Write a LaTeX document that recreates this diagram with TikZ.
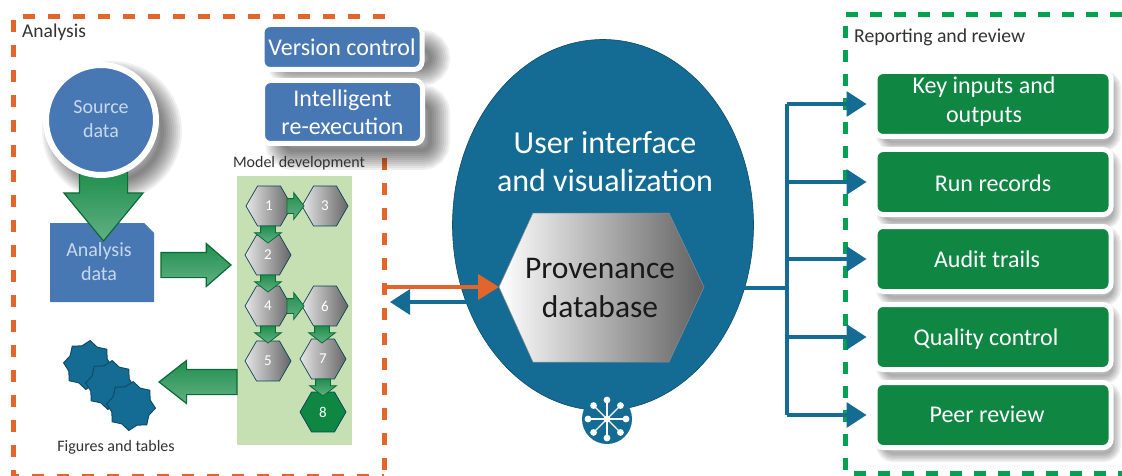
\documentclass[tikz,border=0pt]{standalone}
\usepackage{fontspec}
\setmainfont{Carlito}
\usetikzlibrary{shapes.geometric,shapes.arrows,arrows.meta}
\definecolor{framered}{HTML}{E2662B}
\definecolor{framegreen}{HTML}{00A14F}
\definecolor{boxblue}{HTML}{4878B4}
\definecolor{uiblue}{HTML}{146C95}
\definecolor{boxgreen}{HTML}{0F8743}
\definecolor{arrowedge}{HTML}{0B6B37}
\definecolor{arrowgreen}{HTML}{1F8F4E}
\definecolor{panelgreen}{HTML}{C6E0B4}
\definecolor{softtext}{HTML}{C7D8EC}
\tikzset{
    framered/.style={draw=framered,line width=5pt,dash pattern=on 12pt off 13pt},
    framegreen/.style={draw=framegreen,line width=5pt,dash pattern=on 12pt off 12pt},
    bluebox/.style={draw=white,line width=5pt,fill=boxblue,rounded corners=8pt,outer sep=0pt,text=white,align=center,font=\fontsize{24}{28}\selectfont},
    greenbox/.style={draw=white,line width=5pt,fill=boxgreen,rounded corners=8pt,outer sep=0pt,minimum width=236pt,minimum height=65pt},
    greentext/.style={text=white,align=center,inner sep=0pt,font=\fontsize{24}{29}\selectfont},
    softlabel/.style={text=softtext,align=center,inner sep=0pt,font=\fontsize{20}{24}\selectfont},
    caption/.style={text=black!80,inner sep=0pt},
    blockarrow/.style={single arrow,anchor=tail,draw=arrowedge,line width=1.2pt,inner xsep=0pt,outer sep=0pt,
        top color=arrowgreen,middle color=arrowgreen!25,bottom color=arrowgreen!70},
    bigarrow/.style={blockarrow,inner ysep=23.5pt,single arrow head extend=15.5pt,single arrow tip angle=79,minimum height=69pt},
    midarrow/.style={blockarrow,inner ysep=12pt,single arrow head extend=9pt,single arrow tip angle=82,minimum height=70pt},
    tinyarrow/.style={blockarrow,line width=.8pt,inner ysep=7pt,single arrow head extend=6pt,single arrow tip angle=105,minimum height=17pt},
    stephex/.style={regular polygon,regular polygon sides=6,minimum size=46pt,inner sep=0pt,
        draw=uiblue!60!black,line width=.7pt,left color=black!10,right color=black!60,text=white,font=\fontsize{15}{15}\selectfont},
    outstar/.style={star,star points=8,star point ratio=1.22,minimum size=49pt,inner sep=0pt,fill=uiblue,draw=uiblue!70!black,line width=1pt},
    busline/.style={draw=uiblue,line width=3.5pt},
    tipline/.style={busline,-{Triangle[length=20pt,width=25pt]}},
}
\begin{document}
\begin{tikzpicture}[x=1pt,y=-1pt]
        \useasboundingbox (0,0) rectangle (1122,476);
        \fill[white] (0,0) rectangle (1122,476);
        % frames
        \path[framered] (384,158) -- (384,476);
        \path[framered] (385,17) -- (13,17) -- (13,476) -- (384,476);
        \path[framegreen] (1122,15) -- (845,15) -- (845,473) -- (1122,473);
        \node[caption,anchor=west,font=\fontsize{19.5}{19.5}\selectfont] (analysis) at (22,32) {Analysis};
        \node[caption,anchor=west,font=\fontsize{19.7}{19.7}\selectfont] (reporting) at (854,37) {Reporting and review};
        % soft shadows
        \scope[black,opacity=.06]
            \foreach \w in {4,8,...,40} {
                \draw[line width=\w pt,rounded corners=8pt] (285,50) rectangle (430,66);
                \draw[line width=\w pt,rounded corners=8pt] (285,105) rectangle (430,150);
                \draw[line width=\w pt] (112,131) circle (50);
            }
            \foreach \y in {74,152,229,307,385} {
                \foreach \w in {3,6,...,18} {
                    \draw[line width=\w pt,rounded corners=8pt] (885,\y+6) rectangle (1112,\y+68);
                }
            }
        \endscope
        % analysis side
        \fill[boxblue] (50,223) -- (144,223) -- (154,233) -- (154,302) -- (50,302) -- cycle;
        \node[softlabel] (analysisdata) at (99,262) {Analysis\\data};
        \node[bigarrow,rotate=-90] (sourcearrow) at (103.5,172) {};
        \node[circle,draw=white,line width=6pt,fill=boxblue,minimum size=110pt,outer sep=0pt] (source) at (101,120) {};
        \node[softlabel] (sourcelabel) at (101,119) {Source\\data};
        \node[bluebox,minimum width=160pt,minimum height=45pt] (version) at (342,47) {Version control};
        \node[bluebox,minimum width=160pt,minimum height=63pt] (intelligent) at (342.5,112) {Intelligent\\re-execution};
        \node[caption,font=\fontsize{16}{16}\selectfont] (modeldev) at (299,163) {Model development};
        \node[caption,font=\fontsize{16}{16}\selectfont] (figures) at (116,447) {Figures and tables};
        \fill[panelgreen] (237,176) rectangle (352,445);
        \node[midarrow] (intoarrow) at (161,265) {};
        \node[midarrow,minimum height=78pt,single arrow tip angle=76,rotate=180] (backarrow) at (237,382) {};
        % model steps
        \foreach \n/\x/\y in {1/269/206,2/268/255,3/325/206,4/268/306,5/268/361,6/325/306,7/323/359} {
            \node[stephex] (hex\n) at (\x,\y) {\n};
        }
        \node[stephex,fill=boxgreen,left color=boxgreen,right color=boxgreen] (hex8) at (323,412) {8};
        \foreach \n/\x/\y/\r in {a/287/206/0,b/287/306/0,c/268/226/-90,d/268/275/-90,e/268/326/-90,f/322/326/-90,g/323/379/-90} {
            \node[tinyarrow,rotate=\r] (steparrow\n) at (\x,\y) {};
        }
        \foreach \n/\x/\y in {1/88/365,2/110/385,3/131/406} {
            \node[outstar,rotate=-5] (star\n) at (\x,\y) {};
        }
        % centre
        \node[ellipse,fill=uiblue,draw=uiblue!70!black,line width=.6pt,minimum width=301pt,minimum height=371pt,inner sep=0pt] (ui) at (603,225) {};
        \node[text=white,align=center,inner sep=0pt,font=\fontsize{32}{38}\selectfont] (uilabel) at (605,162) {User interface\\and visualization};
        \path[left color=white,right color=black!62,draw=black!45,line width=.5pt] (499,287) -- (533,213) -- (669,213) -- (704,287) -- (669,362) -- (533,362) -- cycle;
        \node[align=center,inner sep=0pt,text=black!90,font=\fontsize{31.5}{39}\selectfont] (provenance) at (600,288) {Provenance\\database};
        \node[circle,fill=uiblue,minimum size=50pt,inner sep=0pt] (network) at (607,419) {};
        \foreach \a in {0,45,...,315} {
            \draw[white,line width=1.2pt] (network.center) -- ++(\a:19);
            \fill[white] (network.center) ++(\a:19) circle (3.4);
        }
        \fill[white] (network.center) circle (3.6);
        \coordinate (frameedge) at (384,287);
        \coordinate (provleft) at (499,287);
        \coordinate (backstart) at (470,302);
        \coordinate (backend) at (390,302);
        \draw[line width=4pt,draw=framered,-{Triangle[length=21pt,width=25pt]}] (frameedge) -- (provleft);
        \draw[tipline] (backstart) -- (backend);
        % reporting side
        \foreach \n/\y in {key/104,run/182,audit/259,quality/337,peer/415} {
            \node[greenbox] (\n) at (993,\y) {};
            \coordinate (bus\n) at (787,\y);
        }
        \node[greentext] (keylabel) at (984,102) {Key inputs and\\outputs};
        \node[greentext] (runlabel) at (993,183) {Run records};
        \node[greentext] (auditlabel) at (987,259) {Audit trails};
        \node[greentext] (qualitylabel) at (986,339) {Quality control};
        \node[greentext] (peerlabel) at (987,414) {Peer review};
        \coordinate (uiright) at (743,288);
        \coordinate (bustee) at (787,288);
        \draw[busline] (uiright) -- (bustee);
        \draw[busline] (buskey) -- (buspeer);
        \foreach \n in {key,run,audit,quality,peer} {
            \draw[tipline,shorten >=8.5pt] (bus\n) -- (\n.west);
        }
\end{tikzpicture}
\end{document}
